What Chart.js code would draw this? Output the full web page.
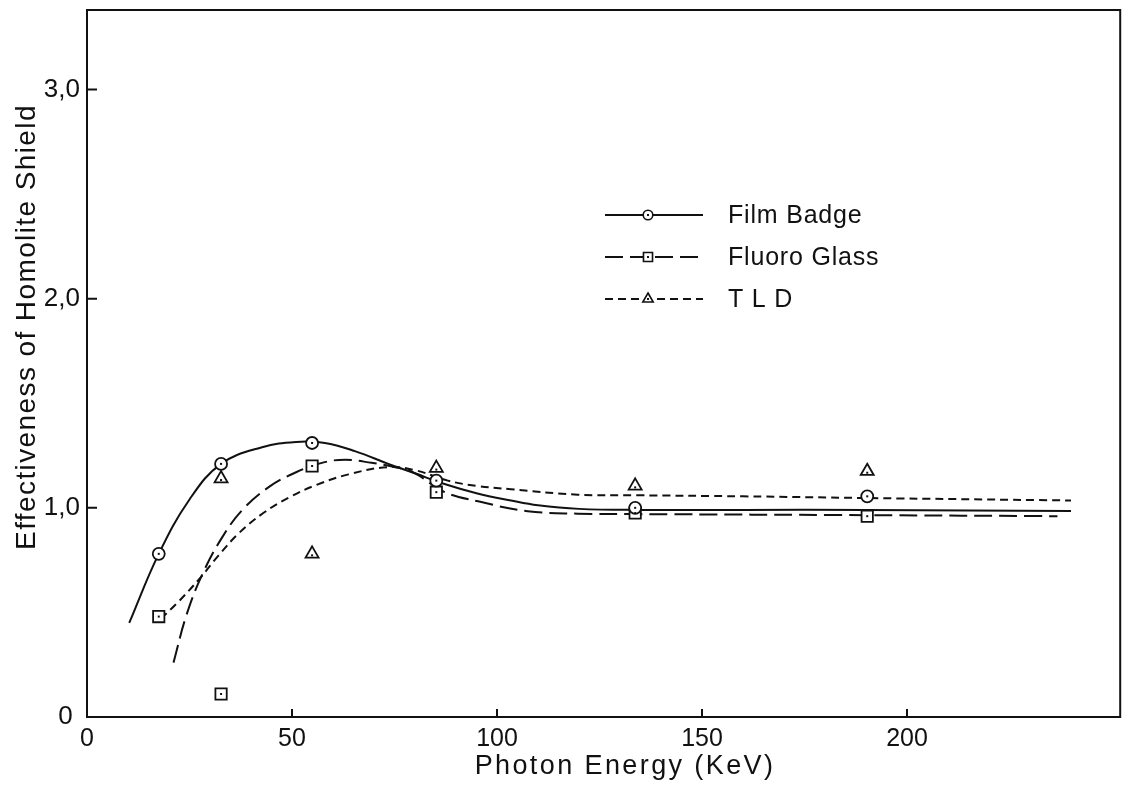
<!DOCTYPE html>
<html>
<head>
<meta charset="utf-8">
<title>Effectiveness of Homolite Shield</title>
<script src="https://cdn.jsdelivr.net/npm/chart.js@4.4.1/dist/chart.umd.min.js"></script>
<style>
  html, body { margin: 0; padding: 0; background: #ffffff; }
  canvas { display: block; }
</style>
</head>
<body>
<canvas id="chart" width="1130" height="791"></canvas>
<script>
// Measured points (photon energy in keV, shield effectiveness)
const energy      = [17.5, 32.7, 54.9, 85.2, 133.7, 190.3];
const filmBadge   = [0.78, 1.21, 1.31, 1.13, 1.00, 1.055];
const fluoroGlass = [0.48, 0.11, 1.20, 1.075, 0.975, 0.96];
const tldEnergy   = [32.7, 54.9, 85.2, 133.7, 190.3];
const tld         = [1.14, 0.78, 1.19, 1.105, 1.175];

// Hand-fitted curves drawn through the measurements
const filmCurveE   = [10.3, 17.5, 25, 32.7, 42.7, 51, 58, 65.5, 73.5, 80, 87, 95, 103.4, 110, 120, 135, 160, 190, 240];
const filmCurve    = [0.45, 0.78, 1.04, 1.21, 1.29, 1.315, 1.31, 1.27, 1.21, 1.165, 1.115, 1.07, 1.035, 1.012, 0.995, 0.99, 0.99, 0.99, 0.985];
const fluoroCurveE = [21.1, 24.3, 28.2, 33, 37.9, 44.4, 51, 57.3, 63, 69.4, 75, 80, 86.9, 95.4, 107.5, 119.7, 134, 190, 236.7];
const fluoroCurve  = [0.26, 0.49, 0.685, 0.86, 0.99, 1.10, 1.17, 1.215, 1.23, 1.215, 1.195, 1.165, 1.078, 1.031, 0.984, 0.972, 0.97, 0.965, 0.96];
const tldCurveE    = [18, 22, 27.4, 32, 37.1, 43, 49.3, 56, 63.8, 73.5, 80, 88, 95, 103.4, 119.7, 134, 160, 190, 240];
const tldCurve     = [0.47, 0.545, 0.66, 0.77, 0.88, 0.975, 1.05, 1.11, 1.16, 1.195, 1.18, 1.13, 1.105, 1.089, 1.063, 1.06, 1.055, 1.047, 1.035];

// Axis ticks and text
const xTicks      = [0, 50, 100, 150, 200];
const xTickLabels = ['0', '50', '100', '150', '200'];
const yTicks      = [0, 1, 2, 3];
const yTickLabels = ['0 ', '1,0', '2,0', '3,0'];
const seriesNames = ['Film Badge', 'Fluoro Glass', 'T L D'];
const xTitle = 'Photon Energy (KeV)';
const yTitle = 'Effectiveness of Homolite Shield';

const INK = '#111111';
const FONT = "'Liberation Sans', Arial, sans-serif";

const pairs = (xs, ys) => xs.map((x, i) => ({ x: x, y: ys[i] }));

const markerBase = {
  showLine: false,
  backgroundColor: '#ffffff',
  borderColor: INK,
  borderWidth: 1.8,
  pointBackgroundColor: '#ffffff',
  pointBorderColor: INK,
  pointBorderWidth: 1.8
};
const curveBase = {
  showLine: true,
  pointRadius: 0,
  borderColor: INK,
  borderWidth: 2,
  tension: 0.4,
  fill: false
};

const datasets = [
  Object.assign({ label: seriesNames[0], data: pairs(energy, filmBadge), pointStyle: 'circle', pointRadius: 6 }, markerBase),
  Object.assign({ label: seriesNames[1], data: pairs(energy, fluoroGlass), pointStyle: 'rect', pointRadius: 8 }, markerBase),
  Object.assign({ label: seriesNames[2], data: pairs(tldEnergy, tld), pointStyle: 'triangle', pointRadius: 7.5 }, markerBase),
  Object.assign({ label: seriesNames[0] + ' curve', data: pairs(filmCurveE, filmCurve), borderDash: [] }, curveBase),
  Object.assign({ label: seriesNames[1] + ' curve', data: pairs(fluoroCurveE, fluoroCurve), borderDash: [18, 7] }, curveBase),
  Object.assign({ label: seriesNames[2] + ' curve', data: pairs(tldCurveE, tldCurve), borderDash: [8, 5] }, curveBase)
];

// Small centre dot inside every marker
const markerDots = {
  id: 'markerDots',
  afterDatasetsDraw(chart) {
    const ctx = chart.ctx;
    ctx.save();
    ctx.fillStyle = INK;
    for (let i = 0; i < 3; i++) {
      chart.getDatasetMeta(i).data.forEach(pt => {
        const dy = i === 2 ? 1.5 : 0;
        ctx.fillRect(pt.x - 1, pt.y - 1 + dy, 2, 2);
      });
    }
    ctx.restore();
  }
};

// Box frame with inward ticks
const frame = {
  id: 'frame',
  afterDraw(chart) {
    const { ctx, chartArea: a, scales } = chart;
    ctx.save();
    ctx.strokeStyle = INK;
    ctx.lineWidth = 2;
    ctx.setLineDash([]);
    ctx.strokeRect(a.left, a.top, a.right - a.left, a.bottom - a.top);
    ctx.beginPath();
    yTicks.forEach(v => {
      if (v === 0) return;
      const y = scales.y.getPixelForValue(v);
      ctx.moveTo(a.left, y); ctx.lineTo(a.left + 10, y);
    });
    xTicks.forEach(v => {
      if (v === 0) return;
      const x = scales.x.getPixelForValue(v);
      ctx.moveTo(x, a.bottom); ctx.lineTo(x, a.bottom - 8);
    });
    ctx.stroke();
    ctx.restore();
  }
};

// Axis titles, widely tracked
const axisTitles = {
  id: 'axisTitles',
  afterDraw(chart) {
    const ctx = chart.ctx;
    ctx.save();
    ctx.fillStyle = INK;
    ctx.textAlign = 'center';
    ctx.textBaseline = 'middle';
    ctx.font = '27px ' + FONT;
    ctx.letterSpacing = '2.4px';
    ctx.fillText(xTitle, 625, 767);
    ctx.translate(27, 327);
    ctx.rotate(-Math.PI / 2);
    ctx.font = '28px ' + FONT;
    ctx.letterSpacing = '1.4px';
    ctx.fillText(yTitle, 0, 0);
    ctx.restore();
  }
};

// Legend: line sample with marker in the middle, then the series name
const legendBox = {
  id: 'legendBox',
  afterDraw(chart) {
    const ctx = chart.ctx;
    const rows = [215, 257, 299];
    const x0 = 605, x1 = 703, xm = 648, xt = 728;
    ctx.save();
    for (let i = 0; i < 3; i++) {
      const curve = chart.data.datasets[3 + i];
      const mark = chart.data.datasets[i];
      const y = rows[i];
      ctx.strokeStyle = INK;
      ctx.lineWidth = 2;
      ctx.setLineDash(curve.borderDash);
      ctx.beginPath();
      ctx.moveTo(x0, y); ctx.lineTo(x1, y);
      ctx.stroke();
      ctx.setLineDash([]);
      ctx.fillStyle = '#ffffff';
      ctx.lineWidth = 1.6;
      Chart.helpers.drawPoint(ctx, {
        pointStyle: mark.pointStyle,
        radius: mark.pointRadius * 0.8,
        rotation: 0,
        borderWidth: 1.6
      }, xm, y);
      ctx.fillStyle = INK;
      ctx.fillRect(xm - 1, y - 1, 2, 2);
      ctx.font = '25px ' + FONT;
      ctx.letterSpacing = '0.8px';
      ctx.textAlign = 'left';
      ctx.textBaseline = 'middle';
      ctx.fillText(mark.label, xt, y + 1);
      ctx.letterSpacing = '0px';
    }
    ctx.restore();
  }
};

new Chart(document.getElementById('chart'), {
  type: 'scatter',
  data: { datasets: datasets },
  options: {
    responsive: false,
    animation: false,
    devicePixelRatio: 1,
    layout: { padding: { top: 10, right: 3, left: 0, bottom: 0 } },
    plugins: { legend: { display: false }, tooltip: { enabled: false } },
    scales: {
      x: {
        type: 'linear',
        min: 0,
        max: 252,
        grid: { display: false, drawTicks: false },
        border: { display: false },
        afterBuildTicks: s => { s.ticks = xTicks.map(v => ({ value: v })); },
        afterFit: s => { s.height = 74; s.paddingLeft = 0; s.paddingRight = 0; },
        ticks: {
          color: INK,
          padding: 7,
          maxRotation: 0,
          autoSkip: false,
          font: { family: FONT, size: 25 },
          callback: v => xTickLabels[xTicks.indexOf(v)]
        }
      },
      y: {
        type: 'linear',
        min: 0,
        max: 3.38,
        grid: { display: false, drawTicks: false },
        border: { display: false },
        afterBuildTicks: s => { s.ticks = yTicks.map(v => ({ value: v })); },
        afterFit: s => { s.width = 87; s.paddingTop = 0; s.paddingBottom = 0; },
        ticks: {
          color: INK,
          padding: 7,
          autoSkip: false,
          font: { family: FONT, size: 26 },
          callback: v => yTickLabels[yTicks.indexOf(v)]
        }
      }
    }
  },
  plugins: [markerDots, frame, axisTitles, legendBox]
});
</script>
</body>
</html>
